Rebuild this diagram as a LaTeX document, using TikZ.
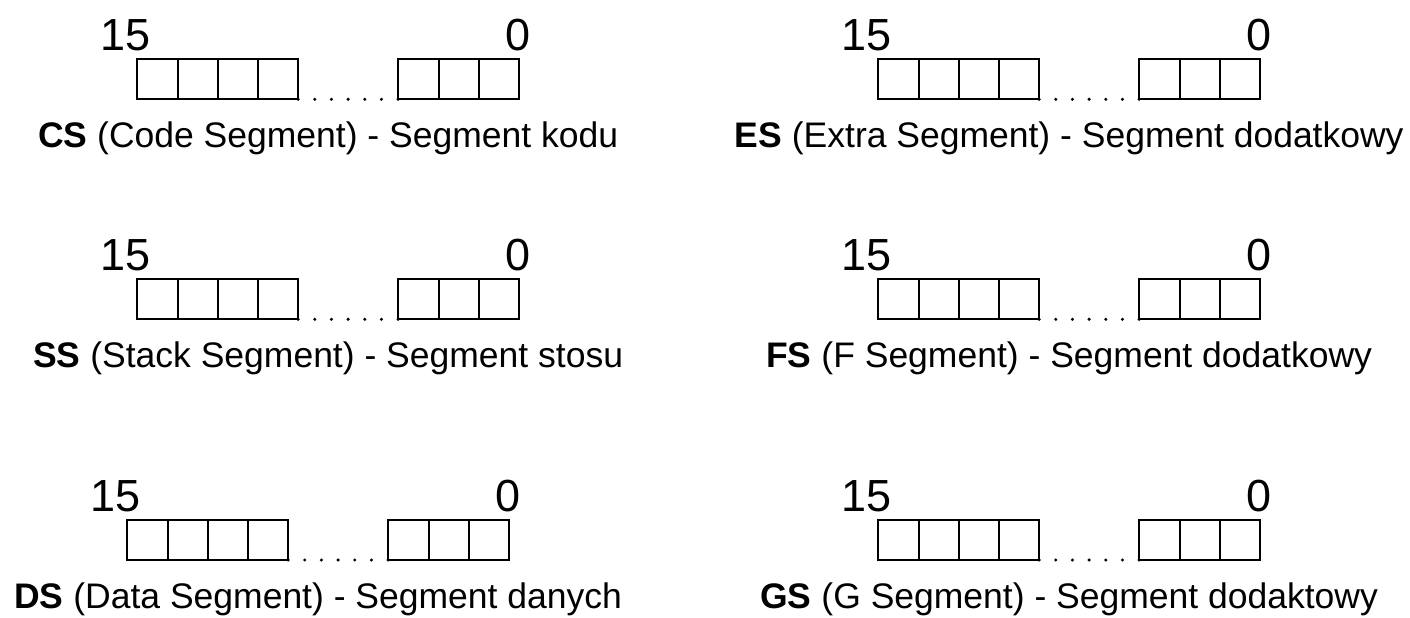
\documentclass[tikz,border=0pt]{standalone}
\usepackage{fontspec}
\setmainfont{Liberation Sans}

\tikzset{
  cell/.style={draw, line width=2pt, minimum width=40.2pt, minimum height=40pt,
    inner sep=0pt, outer sep=0pt, anchor=north west},
  bitnum/.style={font=\fontsize{45}{50}\selectfont, inner sep=0pt, anchor=base west},
  reglabel/.style={font=\fontsize{35.5}{42}\selectfont, inner sep=0pt, anchor=base},
  gap/.style={line width=3.4pt, line cap=round, dash pattern=on 0pt off 16.67pt}
}

% One 16-bit segment register: #1 name, #2 left x, #3 top y, #4 caption
\newcommand\segreg[4]{%
  \foreach \i in {0,...,3} \node[cell] (#1l\i) at ({#2+40.2*\i},#3) {};
  \foreach \i in {0,...,2} \node[cell] (#1r\i) at ({#2+261+40.2*\i},#3) {};
  \draw[gap] (#1l3.south east) -- (#1r0.south west);
  \node[bitnum] (#1hi) at ({#2-37.5},{#3-9}) {15};
  \node[bitnum] (#1lo) at ({#2+261+120.6-14},{#3-9}) {0};
  \node[reglabel] (#1name) at ({#2+190.8},{#3+88}) {#4};
}

\begin{document}
\begin{tikzpicture}[x=1pt, y=-1pt]
  \useasboundingbox (0,0) rectangle (1410,618);

  \segreg{CS}{137.3}{59.3}{\textbf{CS} (Code Segment) - Segment kodu}
  \segreg{ES}{878.3}{59.3}{\textbf{ES} (Extra Segment) - Segment dodatkowy}
  \segreg{SS}{137.3}{279.3}{\textbf{SS} (Stack Segment) - Segment stosu}
  \segreg{FS}{878.3}{279.3}{\textbf{FS} (F Segment) - Segment dodatkowy}
  \segreg{DS}{127.3}{520}{\textbf{DS} (Data Segment) - Segment danych}
  \segreg{GS}{878.3}{520}{\textbf{GS} (G Segment) - Segment dodaktowy}
\end{tikzpicture}
\end{document}
